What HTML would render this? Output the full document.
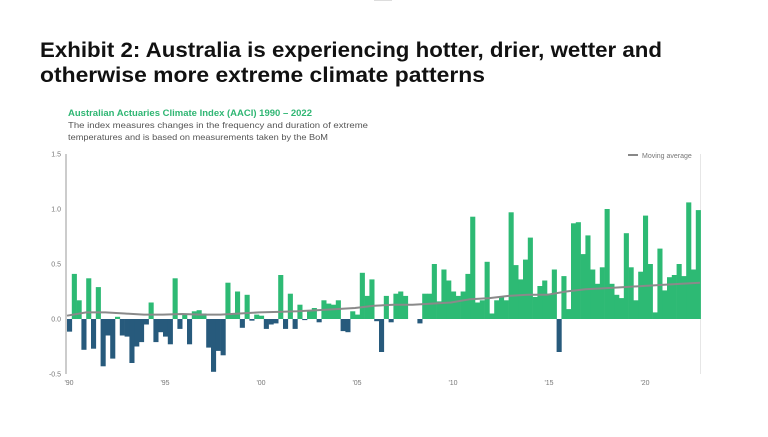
<!DOCTYPE html>
<html><head><meta charset="utf-8"><style>
body{margin:0;background:#fff;width:768px;height:432px;overflow:hidden;font-family:"Liberation Sans",sans-serif}
</style></head><body>
<svg id="chart" width="768" height="432" xmlns="http://www.w3.org/2000/svg" font-family="Liberation Sans, sans-serif">
<rect x="374" y="0" width="18" height="1" fill="#ddd"/>
<text x="40" y="57" font-size="21" font-weight="bold" fill="#111" textLength="622" lengthAdjust="spacingAndGlyphs">Exhibit 2: Australia is experiencing hotter, drier, wetter and</text>
<text x="40" y="82" font-size="21" font-weight="bold" fill="#111" textLength="445" lengthAdjust="spacingAndGlyphs">otherwise more extreme climate patterns</text>
<text x="68" y="116" font-size="9" font-weight="bold" fill="#2fb673" textLength="244" lengthAdjust="spacingAndGlyphs">Australian Actuaries Climate Index (AACI) 1990 – 2022</text>
<text x="68" y="128" font-size="8.5" fill="#555" textLength="300" lengthAdjust="spacingAndGlyphs">The index measures changes in the frequency and duration of extreme</text>
<text x="68" y="140" font-size="8.5" fill="#555" textLength="260" lengthAdjust="spacingAndGlyphs">temperatures and is based on measurements taken by the BoM</text>
<g id="plot"></g>
<line x1="628" y1="155" x2="638" y2="155" stroke="#888" stroke-width="2"/>
<text x="642" y="158" font-size="7" fill="#777">Moving average</text>
</svg>
<script>
const values=[-0.115,0.41,0.17,-0.28,0.37,-0.27,0.29,-0.43,-0.15,-0.36,0.02,-0.15,-0.16,-0.40,-0.25,-0.21,-0.05,0.15,-0.21,-0.12,-0.16,-0.23,0.37,-0.09,0.05,-0.23,0.07,0.08,0.05,-0.26,-0.48,-0.29,-0.33,0.33,0.05,0.25,-0.08,0.22,-0.015,0.04,0.03,-0.09,-0.05,-0.04,0.40,-0.09,0.23,-0.09,0.13,-0.01,0.08,0.10,-0.03,0.17,0.14,0.13,0.17,-0.11,-0.12,0.07,0.04,0.42,0.21,0.36,-0.02,-0.30,0.21,-0.03,0.23,0.25,0.21,0,0,-0.04,0.23,0.23,0.50,0.16,0.45,0.35,0.25,0.21,0.25,0.41,0.93,0.15,0.17,0.52,0.05,0.17,0.20,0.17,0.97,0.49,0.36,0.54,0.74,0.20,0.30,0.35,0.23,0.45,-0.30,0.39,0.09,0.87,0.88,0.59,0.76,0.45,0.32,0.47,1.0,0.32,0.22,0.19,0.78,0.47,0.17,0.43,0.94,0.50,0.06,0.64,0.26,0.38,0.40,0.50,0.39,1.06,0.45,0.99];
const maYears=[1990,1991,1992,1993,1994,1995,1996,1997,1998,1999,2000,2001,2002,2003,2004,2005,2006,2007,2008,2009,2010,2011,2012,2013,2014,2015,2016,2017,2018,2019,2020,2021,2022,2023];
const maValues=[0.03,0.06,0.06,0.05,0.04,0.04,0.045,0.04,0.04,0.05,0.06,0.065,0.07,0.08,0.09,0.10,0.12,0.13,0.13,0.14,0.15,0.18,0.19,0.21,0.22,0.22,0.25,0.27,0.28,0.29,0.30,0.31,0.32,0.33];
const yTicks=[1.5,1.0,0.5,0.0,-0.5];
const yTickLabels=["1.5","1.0","0.5","0.0","-0.5"];
const xTicks=[1990,1995,2000,2005,2010,2015,2020];
const xTickLabels=["'90","'95","'00","'05","'10","'15","'20"];
const NS="http://www.w3.org/2000/svg";
const g=document.getElementById('plot');
const x0=67,pxYear=19.2,yZero=319,pxUnit=110;
const xs=yr=>x0+(yr-1990)*pxYear;
const ys=v=>yZero-v*pxUnit;
function mk(t,a){const e=document.createElementNS(NS,t);for(const k in a)e.setAttribute(k,a[k]);g.appendChild(e);return e;}
let ax=mk('line',{x1:66,y1:ys(1.5),x2:66,y2:ys(-0.5),stroke:'#999','stroke-width':1});


let rx=mk('line',{x1:700.5,y1:ys(1.5),x2:700.5,y2:ys(-0.5),stroke:'#e6e6e6','stroke-width':1});


yTicks.forEach((v,i)=>{const t=mk('text',{x:61,y:ys(v)+2.5,'font-size':7,fill:'#777','text-anchor':'end'});t.textContent=yTickLabels[i];

});
xTicks.forEach((v,i)=>{const t=mk('text',{x:xs(v)+2,y:385,'font-size':7,fill:'#777','text-anchor':'middle'});t.textContent=xTickLabels[i];

});
values.forEach((v,i)=>{const yr=1990+i/4;const x=xs(yr),w=xs(yr+0.25)-x;
const r=mk('rect',{x:x,y:Math.min(ys(v),yZero),width:w+0.3,height:Math.abs(ys(v)-yZero),fill:v>=0?'#2dba74':'#275a7c'});

});
const pts=maYears.map((y,i)=>xs(Math.min(y,2022.97))+','+ys(maValues[i])).join(' ');
const ma=mk('polyline',{points:pts,fill:'none',stroke:'#8a8a8a','stroke-width':2});


</script>
</body></html>
